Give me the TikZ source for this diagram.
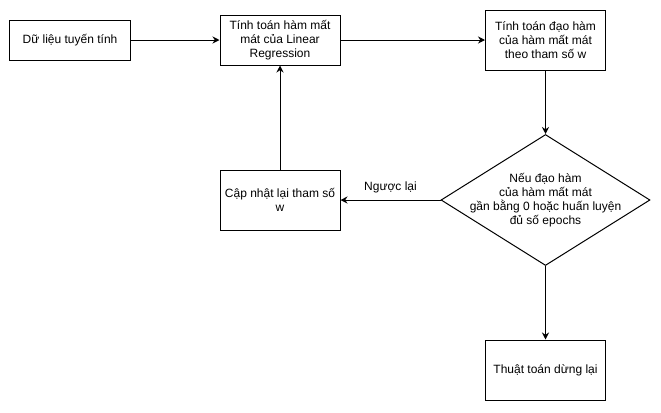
\documentclass[tikz,border=0pt]{standalone}
\usepackage{fontspec}
\setmainfont{Liberation Sans}
\usetikzlibrary{arrows.meta, shapes.geometric}

\begin{document}
\begin{tikzpicture}[x=1bp, y=-1bp,
    font=\fontsize{12bp}{14bp}\selectfont,
    stepbox/.style={draw, line width=1bp, minimum width=120bp, minimum height=60bp, align=center, inner sep=2bp},
    decision/.style={draw, diamond, line width=1bp, minimum width=209bp, minimum height=131bp, inner sep=0pt},
    flow/.style={-{Stealth[length=7bp, width=7bp]}, line width=1bp}]
    \useasboundingbox (0,0) rectangle (661,412);
    \node [stepbox, minimum height=40bp] (data) at (70,40) {Dữ liệu tuyến tính};
    \node [stepbox, minimum height=50bp] (loss) at (280,40) {Tính toán hàm mất\\mát của Linear\\Regression};
    \node [stepbox] (grad) at (545.5,40) {Tính toán đạo hàm\\của hàm mất mát\\theo tham số w};
    \node [decision] (check) at (545.5,200) {};
    \node [align=center] (checktext) at (check) {Nếu đạo hàm\\của hàm mất mát\\gần bằng 0 hoặc huấn luyện\\đủ số epochs};
    \node [stepbox] (update) at (280,200) {Cập nhật lại tham số\\w};
    \node [stepbox] (stop) at (545.5,370) {Thuật toán dừng lại};
    \draw [flow] (data) -- (loss);
    \draw [flow] (loss) -- (grad);
    \draw [flow] (grad) -- (check);
    \draw [flow] (check) -- (stop);
    \draw [flow] (check) -- (update) node [midway, above, yshift=3bp] {Ngược lại};
    \draw [flow] (update) -- (loss);
\end{tikzpicture}
\end{document}
